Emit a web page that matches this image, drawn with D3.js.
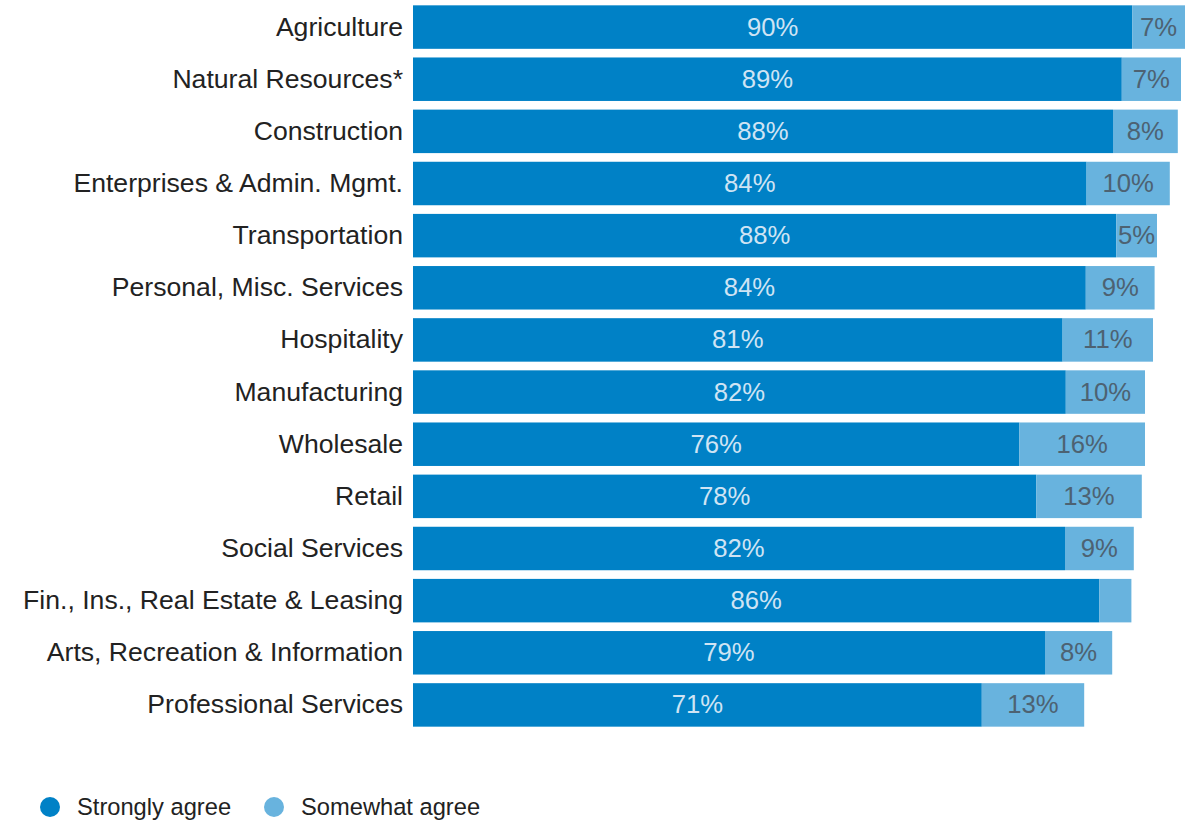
<!DOCTYPE html>
<html>
<head>
<meta charset="utf-8">
<script src="https://cdn.jsdelivr.net/npm/d3@7"></script>
<style>
  html, body { margin: 0; padding: 0; background: #ffffff; }
  svg { display: block; font-family: "Liberation Sans", Arial, Helvetica, sans-serif; }
</style>
</head>
<body>
<svg id="chart" width="1193" height="822"></svg>
<script>
const categories = [
  "Agriculture",
  "Natural Resources*",
  "Construction",
  "Enterprises & Admin. Mgmt.",
  "Transportation",
  "Personal, Misc. Services",
  "Hospitality",
  "Manufacturing",
  "Wholesale",
  "Retail",
  "Social Services",
  "Fin., Ins., Real Estate & Leasing",
  "Arts, Recreation & Information",
  "Professional Services"
];
const stronglyAgree = [89.9, 88.6, 87.5, 84.2, 87.9, 84.1, 81.2, 81.6, 75.8, 77.9, 81.5, 85.8, 79.0, 71.1];
const somewhatAgree = [6.6, 7.4, 8.1, 10.4, 5.1, 8.6, 11.3, 9.9, 15.7, 13.2, 8.6, 4.0, 8.4, 12.8];
const seriesNames = ["Strongly agree", "Somewhat agree"];
const seriesColors = ["#0081c6", "#68b3de"];
const labelColors = ["#cfe4f4", "#4d6272"];

const svg = d3.select("#chart");

const x = d3.scaleLinear().domain([0, 100]).range([413, 1213]);
const y = d3.scaleBand().domain(categories).range([1, 731]).paddingInner(0.166).paddingOuter(0.083);

const rows = categories.map((c, i) => ({
  cat: c,
  segs: [
    { s: 0, x0: 0, x1: stronglyAgree[i], v: stronglyAgree[i] },
    { s: 1, x0: stronglyAgree[i], x1: stronglyAgree[i] + somewhatAgree[i], v: somewhatAgree[i] }
  ]
}));

const g = svg.append("g");
const row = g.selectAll("g.row").data(rows).enter().append("g").attr("class", "row");

row.selectAll("rect").data(d => d.segs.map(s => Object.assign({ cat: d.cat }, s))).enter()
  .append("rect")
  .attr("x", d => x(d.x0))
  .attr("y", d => y(d.cat))
  .attr("width", d => x(d.x1) - x(d.x0))
  .attr("height", y.bandwidth())
  .attr("fill", d => seriesColors[d.s]);

row.selectAll("text.val").data(d => d.segs.filter(s => s.v >= 4.5).map(s => Object.assign({ cat: d.cat }, s))).enter()
  .append("text")
  .attr("class", "val")
  .attr("x", d => (x(d.x0) + x(d.x1)) / 2)
  .attr("y", d => y(d.cat) + y.bandwidth() / 2)
  .attr("dy", "0.33em")
  .attr("text-anchor", "middle")
  .attr("font-size", "25.7px")
  .attr("fill", d => labelColors[d.s])
  .text(d => Math.round(d.v) + "%");

// category axis
const yAxis = d3.axisLeft(y).tickSize(0).tickPadding(10);
const ax = svg.append("g").attr("transform", `translate(${x(0)},0)`).call(yAxis);
ax.select(".domain").remove();
ax.selectAll("text")
  .attr("font-size", "26.6px")
  .attr("font-family", "'Liberation Sans', Arial, Helvetica, sans-serif")
  .attr("fill", "#222222")
  .attr("dy", "0.32em");

// legend
const legendX = [50, 274];
const legend = svg.append("g").selectAll("g").data(seriesNames).enter().append("g")
  .attr("transform", (d, i) => `translate(${legendX[i]},807)`);
legend.append("circle").attr("r", 10).attr("fill", (d, i) => seriesColors[i]);
legend.append("text")
  .attr("x", 27)
  .attr("dy", "0.34em")
  .attr("font-size", "23.7px")
  .attr("fill", "#222222")
  .text(d => d);
</script>
</body>
</html>
